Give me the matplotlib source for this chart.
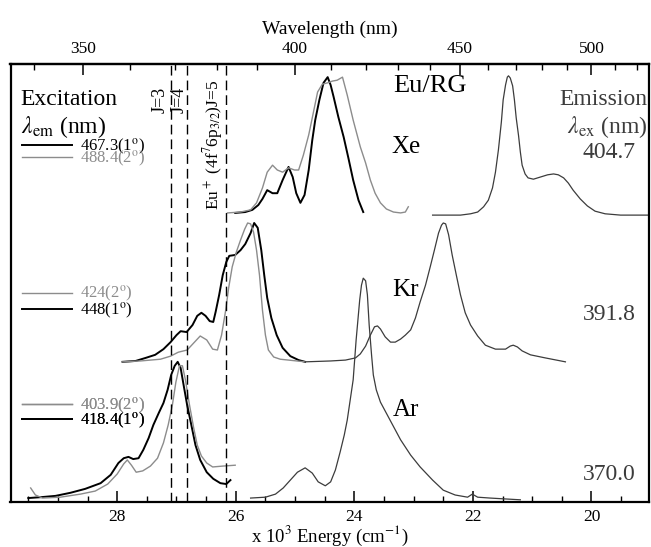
import numpy as np
import matplotlib.pyplot as plt
from matplotlib.ticker import MultipleLocator, FixedLocator

plt.rcParams['font.family'] = ['Liberation Serif', 'DejaVu Serif']
plt.rcParams['mathtext.fontset'] = 'stix'

# --- spectra: energy (10^3 cm-1) vs stacked intensity (a.u.) ---
# Xe
xe_ex1_E = [26.01, 25.84, 25.72, 25.62, 25.55, 25.47, 25.38, 25.30, 25.21, 25.11, 25.04,
            24.98, 24.91, 24.84, 24.77, 24.71, 24.66, 24.59, 24.52, 24.45, 24.40, 24.35,
            24.27, 24.18, 24.10, 24.02, 23.93, 23.85]
xe_ex1_I = [66.0, 66.2, 66.7, 67.8, 69.2, 71.2, 70.5, 70.5, 73.5, 76.5, 74.2,
            70.5, 68.3, 70.1, 75.8, 82.6, 87.2, 91.8, 95.7, 97.0, 95.2, 92.5,
            87.9, 83.3, 78.5, 73.5, 68.9, 66.2]
xe_ex2_E = [26.14, 25.92, 25.75, 25.65, 25.55, 25.47, 25.38, 25.30, 25.21, 25.11, 25.01,
            24.94, 24.86, 24.77, 24.71, 24.62, 24.54, 24.45, 24.37, 24.29, 24.20, 24.12,
            24.02, 23.90, 23.81, 23.73, 23.65, 23.56, 23.46, 23.34, 23.22, 23.14, 23.09]
xe_ex2_I = [66.0, 66.2, 66.7, 68.3, 71.7, 75.3, 76.9, 75.8, 75.3, 76.3, 75.8,
            75.8, 79.2, 83.8, 87.7, 93.6, 95.4, 95.7, 96.1, 96.3, 97.0, 92.9,
            87.2, 81.1, 77.4, 73.5, 70.5, 68.3, 66.9, 66.2, 66.0, 66.2, 67.4]
xe_em_E = [22.68, 22.21, 22.04, 21.92, 21.82, 21.74, 21.67, 21.62, 21.57, 21.52, 21.49,
           21.45, 21.42, 21.40, 21.37, 21.33, 21.30, 21.27, 21.23, 21.20, 21.17, 21.12,
           21.07, 20.98, 20.86, 20.74, 20.64, 20.56, 20.47, 20.39, 20.31, 20.19, 20.07,
           19.94, 19.77, 19.51, 19.03]
xe_em_I = [65.5, 65.5, 65.8, 66.2, 67.4, 68.9, 71.7, 75.3, 80.4, 86.8, 91.8,
           95.2, 97.0, 97.3, 96.8, 95.0, 91.8, 87.7, 83.6, 79.9, 76.9, 74.9,
           74.0, 73.7, 74.2, 74.7, 74.9, 74.7, 74.0, 72.8, 71.2, 69.2, 67.6,
           66.4, 65.8, 65.5, 65.5]

# Kr
kr_ex1_E = [27.91, 27.69, 27.52, 27.36, 27.22, 27.10, 27.00, 26.93, 26.83, 26.73, 26.65,
            26.58, 26.51, 26.44, 26.38, 26.34, 26.28, 26.22, 26.16, 26.11, 26.01, 25.92,
            25.84, 25.75, 25.69, 25.63, 25.57, 25.52, 25.47, 25.40, 25.31, 25.21, 25.08,
            24.94, 24.83]
kr_ex1_I = [32.0, 32.2, 32.9, 33.6, 34.9, 36.5, 38.1, 39.0, 38.8, 40.4, 42.5,
            43.2, 42.5, 41.3, 41.1, 43.4, 47.3, 51.8, 54.8, 56.2, 56.4, 57.5,
            58.9, 61.4, 63.7, 62.6, 57.5, 51.8, 46.6, 42.0, 38.1, 35.2, 33.3,
            32.4, 32.0]
kr_ex2_E = [27.91, 27.61, 27.27, 27.10, 26.97, 26.82, 26.71, 26.60, 26.49, 26.39, 26.31,
            26.24, 26.17, 26.12, 26.06, 25.99, 25.92, 25.85, 25.80, 25.75, 25.70, 25.65,
            25.60, 25.55, 25.50, 25.45, 25.36, 25.25, 24.83]
kr_ex2_I = [32.0, 32.2, 32.6, 33.3, 34.2, 34.7, 36.3, 37.9, 37.0, 34.9, 34.7,
            38.1, 43.8, 48.9, 53.7, 57.1, 59.8, 62.3, 63.7, 63.5, 61.6, 57.5,
            51.8, 43.8, 38.1, 34.7, 33.1, 32.6, 32.0]
kr_em_E = [24.83, 24.40, 24.15, 23.98, 23.90, 23.81, 23.73, 23.66, 23.61, 23.56, 23.48,
           23.39, 23.31, 23.22, 23.14, 23.05, 22.97, 22.89, 22.80, 22.72, 22.65, 22.58,
           22.53, 22.50, 22.46, 22.41, 22.35, 22.28, 22.21, 22.13, 22.04, 21.92, 21.79,
           21.62, 21.45, 21.37, 21.32, 21.25, 21.17, 21.03, 20.78, 20.44]
kr_em_I = [32.0, 32.2, 32.4, 32.9, 33.8, 35.6, 38.1, 40.0, 40.2, 39.5, 37.7,
           36.5, 36.5, 37.2, 38.1, 39.3, 42.0, 45.7, 49.5, 53.7, 57.5, 61.4,
           63.2, 63.7, 63.5, 61.0, 56.4, 51.8, 47.3, 43.2, 40.4, 37.9, 35.8,
           34.9, 34.9, 35.6, 35.8, 35.4, 34.5, 33.6, 32.9, 32.0]

# Ar
ar_ex1_E = [29.50, 29.29, 29.04, 28.79, 28.54, 28.28, 28.11, 27.98, 27.89, 27.81, 27.73,
            27.64, 27.56, 27.47, 27.39, 27.30, 27.22, 27.15, 27.09, 27.03, 26.98, 26.93,
            26.88, 26.82, 26.75, 26.68, 26.60, 26.49, 26.38, 26.26, 26.16, 26.09]
ar_ex1_I = [0.9, 1.1, 1.4, 2.1, 3.0, 4.3, 6.2, 8.9, 10.0, 10.3, 9.8,
            10.0, 11.9, 14.6, 17.6, 20.3, 22.6, 25.6, 29.0, 31.1, 32.0, 30.6,
            26.7, 22.1, 17.6, 13.0, 9.6, 6.8, 5.3, 4.3, 4.1, 5.0]
ar_ex2_E = [29.46, 29.38, 29.26, 28.96, 28.62, 28.37, 28.16, 28.00, 27.89, 27.83, 27.76,
            27.68, 27.57, 27.44, 27.32, 27.22, 27.14, 27.07, 27.01, 26.95, 26.90, 26.85,
            26.78, 26.71, 26.65, 26.58, 26.49, 26.39, 26.22, 26.01]
ar_ex2_I = [3.2, 1.6, 0.9, 1.1, 1.8, 2.5, 4.1, 6.4, 8.7, 9.6, 8.4,
            6.8, 7.1, 8.2, 10.0, 13.5, 17.6, 22.1, 27.4, 31.1, 31.1, 27.9,
            22.1, 16.9, 13.0, 10.5, 8.9, 8.0, 8.2, 8.4]
ar_em_E = [25.75, 25.50, 25.33, 25.20, 25.08, 24.96, 24.83, 24.71, 24.61, 24.49, 24.40,
           24.32, 24.24, 24.17, 24.12, 24.07, 24.02, 23.97, 23.91, 23.88, 23.85, 23.81,
           23.78, 23.75, 23.71, 23.68, 23.63, 23.56, 23.39, 23.22, 23.05, 22.89, 22.68,
           22.50, 22.30, 22.09, 22.01, 21.92, 21.71, 21.20]
ar_em_I = [0.9, 1.1, 1.8, 3.2, 5.0, 6.8, 7.8, 6.6, 4.6, 3.7, 4.6,
           7.3, 11.4, 15.3, 18.7, 23.3, 27.9, 37.0, 46.1, 49.5, 51.1, 50.5,
           47.3, 40.4, 33.6, 29.0, 25.6, 22.8, 18.5, 14.2, 10.7, 8.0, 5.0,
           2.7, 1.6, 1.1, 1.8, 1.1, 0.9, 0.5]

# Eu+ (4f7 6p3/2) J levels, 10^3 cm-1
j_levels = [27.10, 26.83, 26.17]
j_labels = ['J=3', 'J=4', 'Eu$^+$ (4f$^7$6p$_{3/2}$)J=5']

c1 = 'black'
c2 = '#8c8c8c'
cem = '#3c3c3c'

fig = plt.figure(figsize=(6.51, 5.47), dpi=100)
ax = fig.add_axes([10.5 / 651, 45 / 547, 638.5 / 651, 438 / 547])

xe1, = ax.plot(xe_ex1_E, xe_ex1_I, color=c1, lw=1.4, label='467.3(1$^{\\rm o}$)')
xe2, = ax.plot(xe_ex2_E, xe_ex2_I, color=c2, lw=1.0, label='488.4(2$^{\\rm o}$)')
ax.plot(xe_em_E, xe_em_I, color=cem, lw=0.9)
kr1, = ax.plot(kr_ex1_E, kr_ex1_I, color=c1, lw=1.4, label='448(1$^{\\rm o}$)')
kr2, = ax.plot(kr_ex2_E, kr_ex2_I, color=c2, lw=1.0, label='424(2$^{\\rm o}$)')
ax.plot(kr_em_E, kr_em_I, color=cem, lw=0.9)
ar1, = ax.plot(ar_ex1_E, ar_ex1_I, color=c1, lw=1.4, label='418.4(1$^{\\rm o}$)')
ar2, = ax.plot(ar_ex2_E, ar_ex2_I, color=c2, lw=1.0, label='403.9(2$^{\\rm o}$)')
ax.plot(ar_em_E, ar_em_I, color=cem, lw=0.9)

for e in j_levels:
    ax.axvline(e, color='black', lw=1.0, dashes=(7, 3.6))

ax.set_xlim(29.80, 19.03)
ax.set_ylim(0, 100)
ax.set_yticks([])
ax.xaxis.set_major_locator(MultipleLocator(2))
ax.xaxis.set_minor_locator(MultipleLocator(0.5))
ax.tick_params(axis='x', which='both', direction='in', top=False, labelsize=12.5, pad=5)
ax.tick_params(axis='x', which='major', length=8, width=1.1)
ax.tick_params(axis='x', which='minor', length=4.5, width=1.0)
for s in ax.spines.values():
    s.set_linewidth(1.6)
ax.set_xlabel('x 10$^3$ Energy (cm$^{-1}$)', fontsize=13.5, labelpad=-1)


def e2nm(x):
    x = np.asarray(x, dtype=float)
    with np.errstate(divide='ignore'):
        return 1e4 / x


sec = ax.secondary_xaxis('top', functions=(e2nm, e2nm))
sec.xaxis.set_major_locator(FixedLocator([350, 400, 450, 500]))
sec.xaxis.set_minor_locator(FixedLocator(np.arange(340, 530, 10)))
sec.tick_params(which='both', direction='in', labelsize=12.5, pad=5)
sec.tick_params(which='major', length=8, width=1.1)
sec.tick_params(which='minor', length=4.5, width=1.0)
sec.spines['top'].set_linewidth(1.6)
sec.set_xlabel('Wavelength (nm)', fontsize=14, labelpad=5)

# legends for excitation detection wavelengths
for handles, ycen, sp in [([xe1, xe2], 0.797, -0.5), ([kr2, kr1], 0.455, -0.2),
                          ([ar2, ar1], 0.203, -0.3)]:
    leg = ax.legend(handles=handles, loc='center left', bbox_to_anchor=(0.018, ycen),
                    frameon=False, fontsize=12, handlelength=3.0, handletextpad=0.5,
                    labelspacing=sp, borderpad=0, borderaxespad=0)
    for h, t in zip(handles, leg.get_texts()):
        t.set_color(h.get_color())
    ax.add_artist(leg)

# labels
ax.text(29.63, 92.0, 'Excitation', fontsize=17, ha='left', va='center')
ax.text(29.63, 85.6, '$\\lambda_{\\rm em}$ (nm)', fontsize=17, ha='left', va='center')
ax.text(19.06, 92.0, 'Emission', fontsize=17, ha='right', va='center', color=cem)
ax.text(19.06, 85.6, '$\\lambda_{\\rm ex}$ (nm)', fontsize=17, ha='right', va='center', color=cem)
ax.text(19.70, 79.7, '404.7', fontsize=17, ha='center', va='center', color=cem)
ax.text(19.70, 42.7, '391.8', fontsize=17, ha='center', va='center', color=cem)
ax.text(19.70, 6.2, '370.0', fontsize=17, ha='center', va='center', color=cem)

ax.text(22.72, 95.0, 'Eu/RG', fontsize=19, ha='center', va='center')
ax.text(23.13, 81.1, 'Xe', fontsize=18, ha='center', va='center')
ax.text(23.13, 48.4, 'Kr', fontsize=18, ha='center', va='center')
ax.text(23.13, 21.0, 'Ar', fontsize=18, ha='center', va='center')

ax.text(27.27, 91.8, j_labels[0], fontsize=13, rotation=90, ha='center', va='center')
ax.text(26.95, 91.8, j_labels[1], fontsize=13, rotation=90, ha='center', va='center')
ax.text(26.38, 81.5, j_labels[2], fontsize=12.5, rotation=90, ha='center', va='center')

fig.savefig('out.png', dpi=100)
